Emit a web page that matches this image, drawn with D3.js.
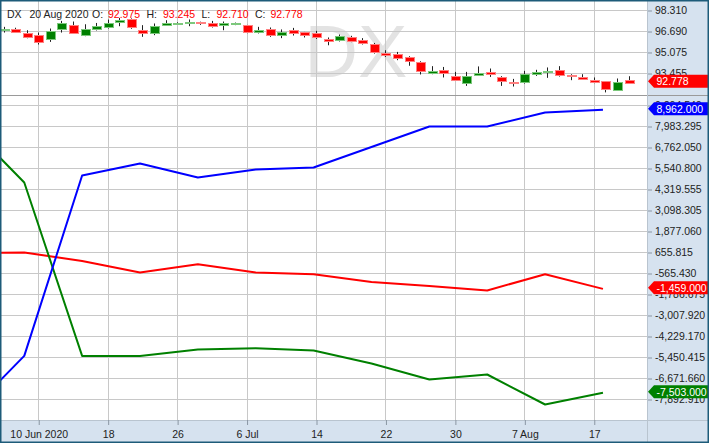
<!DOCTYPE html>
<html><head><meta charset="utf-8">
<script src="https://cdn.jsdelivr.net/npm/d3@7"></script>
<style>
body{margin:0;background:#fff}
svg{display:block}
text{font-family:"Liberation Sans",Arial,sans-serif}
</style>
</head><body>
<svg id="c" width="709" height="443"></svg>
<script>
// ---------- DATA ----------
const symbol = "DX";
const tradingDates = [
 "2020-06-05","2020-06-08","2020-06-09","2020-06-10","2020-06-11","2020-06-12",
 "2020-06-15","2020-06-16","2020-06-17","2020-06-18","2020-06-19",
 "2020-06-22","2020-06-23","2020-06-24","2020-06-25","2020-06-26",
 "2020-06-29","2020-06-30","2020-07-01","2020-07-02","2020-07-03",
 "2020-07-06","2020-07-07","2020-07-08","2020-07-09","2020-07-10",
 "2020-07-13","2020-07-14","2020-07-15","2020-07-16","2020-07-17",
 "2020-07-20","2020-07-21","2020-07-22","2020-07-23","2020-07-24",
 "2020-07-27","2020-07-28","2020-07-29","2020-07-30","2020-07-31",
 "2020-08-03","2020-08-04","2020-08-05","2020-08-06","2020-08-07",
 "2020-08-10","2020-08-11","2020-08-12","2020-08-13","2020-08-14",
 "2020-08-17","2020-08-18","2020-08-19","2020-08-20"];
const opens  = [96.82,96.89,96.61,96.46,96.15,96.85,97.23,96.46,96.89,97.10,97.38,97.62,96.82,96.58,97.23,97.30,97.38,97.41,97.38,97.15,97.26,97.18,96.66,96.92,96.41,96.79,96.64,96.56,96.12,96.00,96.25,96.02,95.69,95.07,94.92,94.73,94.35,93.48,93.69,93.27,92.76,93.38,93.56,93.15,92.78,92.79,93.40,93.58,93.71,93.36,93.22,92.99,92.84,92.22,92.975];
const highs  = [97.05,96.98,96.79,96.61,96.92,97.51,97.46,97.25,97.35,97.61,97.74,97.70,97.18,97.31,97.56,97.40,97.62,97.45,97.51,97.46,97.38,97.20,97.05,97.00,96.85,96.97,96.66,96.74,96.23,96.46,96.36,96.18,95.81,95.25,95.12,94.79,94.40,94.02,93.96,93.58,93.58,94.00,93.84,93.25,93.04,93.66,93.74,93.92,94.02,93.40,93.40,93.15,92.84,93.07,93.245];
const lows   = [96.61,96.60,96.17,95.69,95.89,96.61,96.56,96.33,96.77,96.92,97.10,96.90,96.28,96.41,97.15,97.26,97.10,97.20,97.00,96.79,97.18,96.56,96.54,96.28,96.18,96.38,96.23,96.12,95.63,95.92,95.87,95.69,94.99,94.73,94.48,94.05,93.38,93.40,93.15,92.89,92.50,93.27,93.19,92.50,92.45,92.68,93.27,93.12,93.22,92.94,92.97,92.71,92.00,92.14,92.710];
const closes = [96.86,96.64,96.33,95.92,96.74,97.31,96.58,96.89,97.15,97.38,97.54,97.00,96.61,97.15,97.38,97.38,97.46,97.33,97.15,97.31,97.33,96.66,96.82,96.43,96.66,96.58,96.38,96.23,96.00,96.33,95.92,95.77,95.07,94.92,94.61,94.40,93.63,93.63,93.46,92.99,93.27,93.53,93.38,92.86,92.70,93.38,93.58,93.66,93.35,93.28,93.07,92.84,92.22,92.81,92.778];

const cotDates = ["2020-06-02","2020-06-09","2020-06-16","2020-06-23","2020-06-30","2020-07-07","2020-07-14","2020-07-21","2020-07-28","2020-08-04","2020-08-11","2020-08-18"];
const nonCommercial = [-8800,-5357,5134,5832,5017,5483,5599,6791,7983,7983,8797,8962];      // blue
const nonReportable = [630,656,167,-507,-25,-507,-606,-1054,-1287,-1554,-606,-1459];          // red
const commercial    = [8170,4727,-5357,-5357,-4985,-4910,-5043,-5799,-6730,-6439,-8184,-7503]; // green

const priceTicks = [98.310, 96.690, 95.075, 93.455, 91.837];
const cotTicks = [9204.540, 7983.295, 6762.050, 5540.800, 4319.555, 3098.305, 1877.060, 655.815,
  -565.430, -1786.675, -3007.920, -4229.170, -5450.415, -6671.660, -7892.910];
const xTickDates = ["2020-06-10","2020-06-18","2020-06-26","2020-07-06","2020-07-14","2020-07-22","2020-07-30","2020-08-07","2020-08-17"];
const xTickLabels = ["10 Jun 2020","18","26","6 Jul","14","22","30","7 Aug","17"];
const headerDate = "20 Aug 2020";

// ---------- LAYOUT ----------
const W = 709, H = 443;
const plotL = 1, plotR = 647;
const topT = 1, topB = 95, botT = 96, botB = 420;
const frameColor = "#1d5b79", axisBg = "#d6e2ef", gridColor = "#c8c8c8";
const upFill = "#008000", upStroke = "#7cc87c", dnFill = "#ff0000", dnStroke = "#ff8080";
const blue = "#0000ff", red = "#ff0000", green = "#008000";

const loc = d3.formatLocale({decimal:".", thousands:",", grouping:[3], currency:["",""], minus:"-"});
const fPrice = loc.format(".3f");
const fCot = loc.format(",.3f");

const svg = d3.select("#c");
const parse = d3.utcParse("%Y-%m-%d");
const t0 = parse(tradingDates[0]);
// trading-day index (weekday count relative to first bar)
function tIndex(ds){
  const d = parse(ds);
  if (d >= t0) return d3.utcDay.count(t0, d) - d3.utcSaturday.count(t0, d) - d3.utcSunday.count(t0, d);
  return -(d3.utcDay.count(d, t0) - d3.utcSaturday.count(d, t0) - d3.utcSunday.count(d, t0));
}

const x = d3.scaleLinear().domain([0, tradingDates.length - 1]).range([4, 629]);
const yTop = d3.scaleLinear().domain([98.310, 93.455]).range([10.5, 73.5]);
const yBot = d3.scaleLinear().domain([7983.295, -6671.660]).range([126.5, 378.5]);
const cotOffset = -0.25;

const defs = svg.append("defs");
defs.append("clipPath").attr("id","clipTop").append("rect").attr("x",plotL).attr("y",topT).attr("width",plotR-plotL).attr("height",topB-topT);
defs.append("clipPath").attr("id","clipBot").append("rect").attr("x",plotL).attr("y",botT).attr("width",plotR-plotL).attr("height",botB-botT);

svg.append("rect").attr("width",W).attr("height",H).attr("fill","#fff");

// axis panels
svg.append("rect").attr("x",plotR).attr("y",0).attr("width",W-plotR).attr("height",H).attr("fill",axisBg);
svg.append("rect").attr("x",0).attr("y",botB).attr("width",W).attr("height",H-botB).attr("fill",axisBg);

// watermark
svg.append("text").attr("x",356).attr("y",77).attr("text-anchor","middle")
  .attr("font-size",74).attr("fill","#e3e3e3").text(symbol);

// grid
const xTickIdx = xTickDates.map(tIndex);
const snap = v => Math.round(v - 0.5) + 0.5;
const grid = svg.append("g").attr("stroke",gridColor).attr("stroke-width",1);
grid.selectAll(".gv").data(xTickIdx).join("line")
  .attr("x1",d=>snap(x(d))).attr("x2",d=>snap(x(d))).attr("y1",topT).attr("y2",botB);
grid.selectAll(".gt").data(priceTicks.filter(v=>yTop(v)<topB-1)).join("line").attr("class","gt")
  .attr("x1",plotL).attr("x2",plotR).attr("y1",d=>snap(yTop(d))).attr("y2",d=>snap(yTop(d)));
grid.selectAll(".gb").data(cotTicks).join("line").attr("class","gb")
  .attr("x1",plotL).attr("x2",plotR).attr("y1",d=>snap(yBot(d))).attr("y2",d=>snap(yBot(d)));

// candles
const candles = tradingDates.map((d,i)=>({i, o:opens[i], h:highs[i], l:lows[i], c:closes[i]}));
const gc = svg.append("g").attr("clip-path","url(#clipTop)");
gc.selectAll(".wick").data(candles).join("line")
  .attr("x1",d=>snap(x(d.i))).attr("x2",d=>snap(x(d.i)))
  .attr("y1",d=>yTop(d.h)).attr("y2",d=>yTop(d.l))
  .attr("stroke","#222").attr("stroke-width",1);
gc.selectAll(".body").data(candles).join("rect")
  .each(function(d){
    const y1 = yTop(Math.max(d.o,d.c)), y2 = yTop(Math.min(d.o,d.c));
    const up = d.c >= d.o;
    const pale = (y2 - y1) < 1.5;
    const fill = up ? upFill : dnFill, st = up ? upStroke : dnStroke;
    d3.select(this)
      .attr("x", Math.round(x(d.i) - 4.5) + 0.5)
      .attr("y", Math.round(y1) + 0.5)
      .attr("width", 9)
      .attr("height", Math.max(1, Math.round(y2 - y1)))
      .attr("fill", pale ? st : fill)
      .attr("stroke", st).attr("stroke-width", 1);
  });

// COT lines
const gl = svg.append("g").attr("clip-path","url(#clipBot)");
const cotX = cotDates.map(d => tIndex(d) + cotOffset);
const line = d3.line().x((d,i)=>x(cotX[i])).y(d=>yBot(d));
[[nonReportable, red],[commercial, green],[nonCommercial, blue]].forEach(([s,col])=>{
  gl.append("path").datum(s).attr("d",line).attr("fill","none")
    .attr("stroke",col).attr("stroke-width",2).attr("stroke-linejoin","round");
});

// separators / borders
svg.append("line").attr("x1",0).attr("x2",W).attr("y1",95.5).attr("y2",95.5).attr("stroke","#9a9a9a");
svg.append("line").attr("x1",plotR+0.5).attr("x2",plotR+0.5).attr("y1",0).attr("y2",H).attr("stroke","#b9c4cf");
svg.append("line").attr("x1",0).attr("x2",W).attr("y1",botB+0.5).attr("y2",botB+0.5).attr("stroke","#b9c4cf");

// right axes
const axTop = svg.append("g").attr("transform",`translate(${plotR+1},0)`)
  .call(d3.axisRight(yTop).tickValues(priceTicks.filter(v=>yTop(v)<topB-1)).tickSize(4).tickPadding(3).tickFormat(fPrice));
const axBot = svg.append("g").attr("transform",`translate(${plotR+1},0)`)
  .call(d3.axisRight(yBot).tickValues(cotTicks).tickSize(4).tickPadding(3).tickFormat(fCot));
[axTop, axBot].forEach(a=>{
  a.select(".domain").remove();
  a.selectAll(".tick line").attr("stroke","#8a96a3");
  a.selectAll(".tick text").attr("fill","#222").attr("font-size",10.5)
    .attr("font-family","'Liberation Sans',Arial,sans-serif");
});

// bottom axis
const axX = svg.append("g").attr("transform",`translate(0,${botB})`)
  .call(d3.axisBottom(x).tickValues(xTickIdx).tickSize(5).tickPadding(6)
    .tickFormat((d,i)=>xTickLabels[i]));
axX.select(".domain").remove();
axX.selectAll(".tick line").attr("stroke","#8a96a3");
axX.selectAll(".tick text").attr("fill","#222").attr("font-size",10.5)
  .attr("font-family","'Liberation Sans',Arial,sans-serif");

// last value labels
function tag(yv, txt, col){
  const g = svg.append("g");
  const t = 648, r0 = 654, h = 13;
  g.append("path").attr("d",`M${t},${yv} L${r0},${yv-h/2} L${W-1},${yv-h/2} L${W-1},${yv+h/2} L${r0},${yv+h/2} Z`)
    .attr("fill",col);
  g.append("text").attr("x",656.5).attr("y",yv+4).attr("fill","#fff").attr("font-size",10.5).text(txt);
}
tag(yTop(closes[closes.length-1]) - 1, fPrice(closes[closes.length-1]), red);
tag(yBot(nonCommercial[nonCommercial.length-1]) - 1, fCot(nonCommercial[nonCommercial.length-1]), blue);
tag(yBot(nonReportable[nonReportable.length-1]) - 1, fCot(nonReportable[nonReportable.length-1]), red);
tag(yBot(commercial[commercial.length-1]) - 1, fCot(commercial[commercial.length-1]), green);

// header
const n = closes.length - 1;
const hdr = [
  [7, symbol, "#222"], [29.5, headerDate, "#222"],
  [92, "O:", "#222"], [108, fPrice(opens[n]), "#f00"],
  [146.5, "H:", "#222"], [163, fPrice(highs[n]), "#f00"],
  [201.5, "L:", "#222"], [216.5, fPrice(lows[n]), "#f00"],
  [255, "C:", "#222"], [270.5, fPrice(closes[n]), "#f00"]
];
svg.append("g").selectAll("text").data(hdr).join("text")
  .attr("x",d=>d[0]).attr("y",17.5).attr("font-size",10.5).attr("fill",d=>d[2]).text(d=>d[1]);

// frame
svg.append("rect").attr("x",0.75).attr("y",0.75).attr("width",W-1.5).attr("height",H-1.5)
  .attr("fill","none").attr("stroke",frameColor).attr("stroke-width",1.5);
</script>
</body></html>
